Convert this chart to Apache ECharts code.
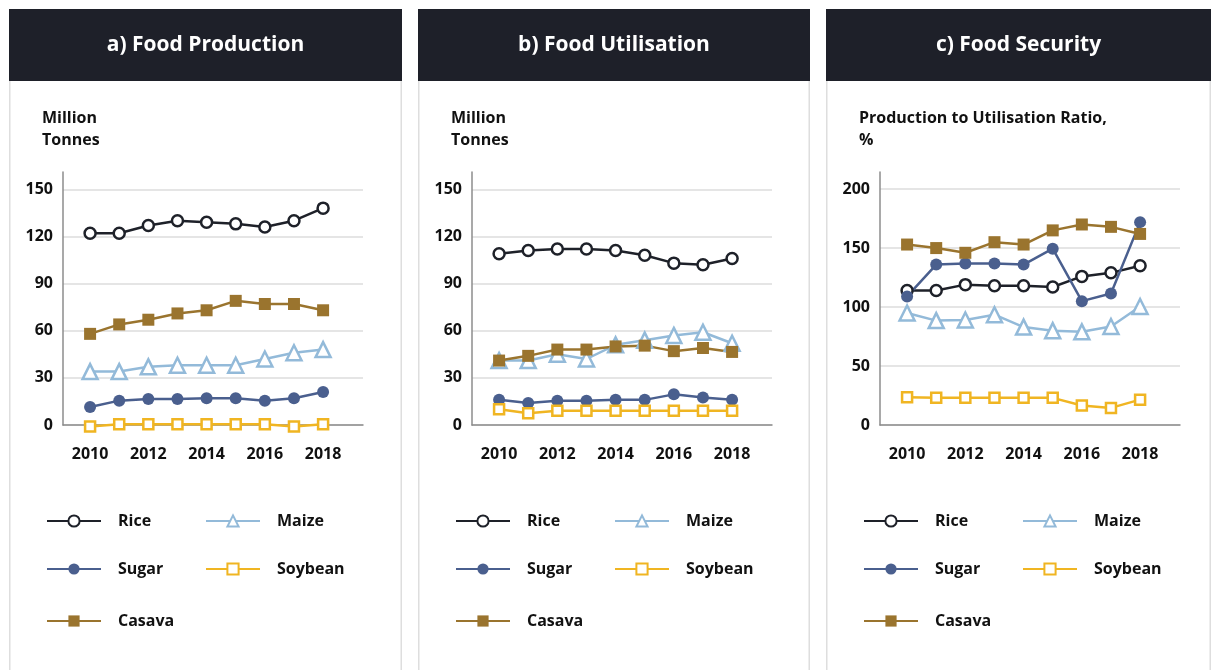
<!DOCTYPE html>
<html>
<head>
<meta charset="utf-8">
<script src="https://cdn.jsdelivr.net/npm/echarts@6/dist/echarts.min.js"></script>
<style>
  html, body { margin: 0; padding: 0; background: #fff; }
  #chart { width: 1211px; height: 670px; }
</style>
</head>
<body>
<div id="chart"></div>
<script>
// years and tick labels
const years = [2010, 2011, 2012, 2013, 2014, 2015, 2016, 2017, 2018]
const yearLabels = [2010, 2012, 2014, 2016, 2018]
const tonneTicks = [0, 30, 60, 90, 120, 150]
const ratioTicks = [0, 50, 100, 150, 200]

// a) Food Production, million tonnes
const prodRice = [122, 122, 127, 130, 129, 128, 126, 130, 138]
const prodMaize = [34, 34, 37, 38, 38, 38, 42, 46, 48]
const prodSugar = [11.5, 15.5, 16.5, 16.5, 17, 17, 15.5, 17, 21]
const prodSoybean = [-1, 0.5, 0.5, 0.5, 0.5, 0.5, 0.5, -1, 0.5]
const prodCasava = [58, 64, 67, 71, 73, 79, 77, 77, 73]

// b) Food Utilisation, million tonnes
const utilRice = [109, 111, 112, 112, 111, 108, 103, 102, 106]
const utilMaize = [41, 41, 45, 42, 51, 54, 57, 59, 52]
const utilSugar = [16, 14, 15.5, 15.5, 16, 16, 19.5, 17.5, 16]
const utilSoybean = [10, 7.5, 9, 9, 9, 9, 9, 9, 9]
const utilCasava = [41, 44, 48, 48, 50, 50.5, 47, 49, 46.5]

// c) Food Security, production to utilisation ratio %
const ratioRice = [114, 114, 119, 118, 118, 117, 126, 129, 135]
const ratioMaize = [95, 88.5, 89, 93.5, 83, 80, 79, 83.5, 100.5]
const ratioSugar = [109, 136, 137, 137, 136, 149.5, 105, 111.5, 172]
const ratioSoybean = [23.5, 23, 23, 23, 23, 23, 16.5, 14.5, 21.5]
const ratioCasava = [153, 150, 146, 155, 153, 165, 170, 168, 162]

const FONT = '"Open Sans"'
const styles = {
  Rice: { color: '#1e2129', symbol: 'circle', size: 11, fill: '#fff' },
  Maize: { color: '#93bad9', symbol: 'triangle', size: 15, fill: '#fff' },
  Sugar: { color: '#4a5f8e', symbol: 'circle', size: 12, fill: null },
  Soybean: { color: '#f0b522', symbol: 'rect', size: 10, fill: '#fff' },
  Casava: { color: '#9a742e', symbol: 'rect', size: 12, fill: null }
}

const panels = [
  { x: 9, w: 393, title: 'a) Food Production', unit: 'Million\nTonnes', max: 161, ticks: tonneTicks,
    data: { Rice: prodRice, Maize: prodMaize, Sugar: prodSugar, Soybean: prodSoybean, Casava: prodCasava } },
  { x: 418, w: 392, title: 'b) Food Utilisation', unit: 'Million\nTonnes', max: 161, ticks: tonneTicks,
    data: { Rice: utilRice, Maize: utilMaize, Sugar: utilSugar, Soybean: utilSoybean, Casava: utilCasava } },
  { x: 826, w: 385, title: 'c) Food Security', unit: 'Production to Utilisation Ratio,\n%', max: 214.5, ticks: ratioTicks,
    data: { Rice: ratioRice, Maize: ratioMaize, Sugar: ratioSugar, Soybean: ratioSoybean, Casava: ratioCasava } }
]

const names = ['Rice', 'Maize', 'Sugar', 'Soybean', 'Casava']
// legend slots: [dx from panel left, centre y]
const legendSlots = { Rice: [37, 520], Maize: [196, 520], Sugar: [37, 568], Soybean: [196, 568], Casava: [37, 620] }

const grid = [], xAxis = [], yAxis = [], series = [], legend = [], graphic = []

panels.forEach((p, i) => {
  const axisX = p.x + 54
  grid.push({ left: axisX, top: 172, width: 300, height: 253 })

  xAxis.push({
    type: 'value', gridIndex: i, min: 2009.07, max: 2019.37,
    axisLine: { show: true, lineStyle: { color: '#8c8c8c', width: 1.5 } },
    axisTick: { show: false, customValues: yearLabels },
    splitLine: { show: false },
    axisLabel: {
      customValues: yearLabels, margin: 21, formatter: v => String(v),
      fontFamily: FONT, fontWeight: 'bold', fontSize: 16, color: '#111'
    }
  })
  yAxis.push({
    type: 'value', gridIndex: i, min: 0, max: p.max,
    axisLine: { show: true, lineStyle: { color: '#8c8c8c', width: 1.5 } },
    axisTick: { show: false, customValues: p.ticks },
    splitLine: { show: true, lineStyle: { color: '#dcdcdc', width: 1.5 } },
    axisLabel: {
      customValues: p.ticks, margin: 10,
      fontFamily: FONT, fontWeight: 'bold', fontSize: 16, color: '#111'
    }
  })

  names.forEach(n => {
    const s = styles[n]
    series.push({
      name: n, type: 'line', xAxisIndex: i, yAxisIndex: i,
      data: years.map((y, k) => [y, p.data[n][k]]),
      symbol: s.symbol, symbolSize: s.size, showSymbol: true, clip: false,
      color: s.color,
      lineStyle: { color: s.color, width: 2.5 },
      itemStyle: s.fill ? { color: s.fill, borderColor: s.color, borderWidth: 2.5 } : { color: s.color },
      emphasis: { disabled: true },
      animation: false
    })
    const slot = legendSlots[n]
    legend.push({
      data: [n], left: p.x + slot[0], top: slot[1] - 7,
      itemWidth: 54, itemHeight: 14, selectedMode: false, padding: 0,
      textStyle: { fontFamily: FONT, fontWeight: 'bold', fontSize: 16, color: '#111', padding: [0, 0, 0, 12] }
    })
  })

  // header band and panel frame
  graphic.push({ type: 'rect', shape: { x: p.x, y: 9, width: p.w, height: 72 }, style: { fill: '#1e2029' }, silent: true })
  graphic.push({ type: 'line', shape: { x1: p.x + 0.75, y1: 81, x2: p.x + 0.75, y2: 670 }, style: { stroke: '#dedede', lineWidth: 1.5 }, silent: true })
  graphic.push({ type: 'line', shape: { x1: p.x + p.w - 0.75, y1: 81, x2: p.x + p.w - 0.75, y2: 670 }, style: { stroke: '#dedede', lineWidth: 1.5 }, silent: true })
  graphic.push({
    type: 'text', x: p.x + p.w / 2, y: 45, silent: true,
    style: { text: p.title, fill: '#fff', font: `bold 21px ${FONT}`, textAlign: 'center', textVerticalAlign: 'middle' }
  })
  graphic.push({
    type: 'text', x: p.x + 33, y: 107, silent: true,
    style: { text: p.unit, fill: '#111', font: `bold 16px ${FONT}`, lineHeight: 22, textAlign: 'left', textVerticalAlign: 'top' }
  })
})

const chart = echarts.init(document.getElementById('chart'), null, { renderer: 'canvas' })
chart.setOption({
  animation: false,
  grid, xAxis, yAxis, series, legend, graphic
})
</script>
</body>
</html>
